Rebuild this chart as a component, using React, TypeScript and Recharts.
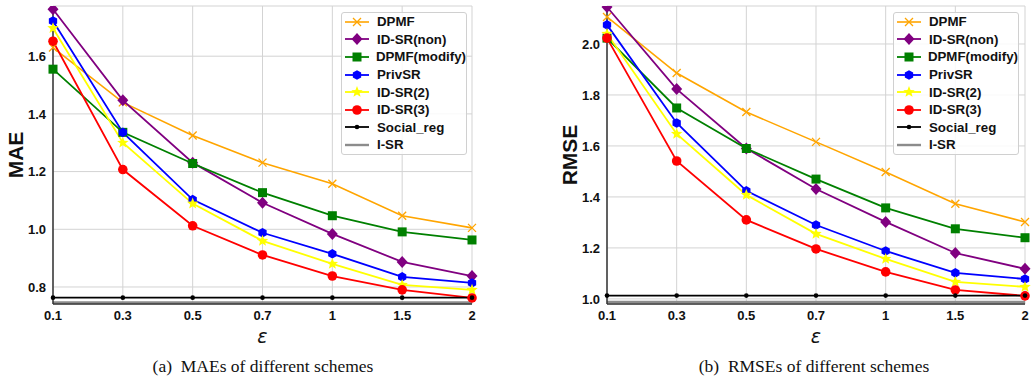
import React from 'react';
import { LineChart, Line, XAxis, YAxis, CartesianGrid, Legend } from 'recharts';

const EPS = ['0.1', '0.3', '0.5', '0.7', '1', '1.5', '2'];

// MAE panel
const MAE_DPMF = [1.63, 1.44, 1.325, 1.231, 1.158, 1.047, 1.005];
const MAE_IDSR_NON = [1.763, 1.447, 1.231, 1.092, 0.984, 0.887, 0.838];
const MAE_DPMF_MOD = [1.555, 1.336, 1.228, 1.127, 1.047, 0.991, 0.963];
const MAE_PRIVSR = [1.722, 1.336, 1.103, 0.988, 0.915, 0.835, 0.814];
const MAE_IDSR2 = [1.697, 1.3, 1.089, 0.96, 0.88, 0.807, 0.79];
const MAE_IDSR3 = [1.652, 1.207, 1.012, 0.911, 0.838, 0.79, 0.762];
const MAE_SOCIAL = [0.763, 0.763, 0.763, 0.763, 0.763, 0.763, 0.763];
const MAE_ISR = [0.746, 0.746, 0.746, 0.746, 0.746, 0.746, 0.746];
const MAE_TICKS = [0.8, 1.0, 1.2, 1.4, 1.6];

// RMSE panel
const RMSE_DPMF = [2.106, 1.886, 1.733, 1.616, 1.498, 1.373, 1.302];
const RMSE_IDSR_NON = [2.145, 1.823, 1.59, 1.431, 1.302, 1.18, 1.118];
const RMSE_DPMF_MOD = [2.023, 1.749, 1.59, 1.47, 1.357, 1.275, 1.24];
const RMSE_PRIVSR = [2.075, 1.69, 1.424, 1.29, 1.188, 1.102, 1.078];
const RMSE_IDSR2 = [2.04, 1.647, 1.408, 1.255, 1.157, 1.067, 1.047];
const RMSE_IDSR3 = [2.023, 1.541, 1.31, 1.196, 1.106, 1.035, 1.012];
const RMSE_SOCIAL = [1.013, 1.013, 1.013, 1.013, 1.013, 1.013, 1.013];
const RMSE_ISR = [0.988, 0.988, 0.988, 0.988, 0.988, 0.988, 0.988];
const RMSE_TICKS = [1.0, 1.2, 1.4, 1.6, 1.8, 2.0];

const SERIES = [
  { key: 'dpmf', name: 'DPMF', color: '#FFA500', marker: 'x', width: 1.6 },
  { key: 'idsrNon', name: 'ID-SR(non)', color: '#800080', marker: 'diamond', width: 1.8 },
  { key: 'dpmfMod', name: 'DPMF(modify)', color: '#008000', marker: 'square', width: 1.8 },
  { key: 'privsr', name: 'PrivSR', color: '#0000FF', marker: 'hex', width: 1.8 },
  { key: 'idsr2', name: 'ID-SR(2)', color: '#FFFF00', marker: 'star', width: 1.8 },
  { key: 'idsr3', name: 'ID-SR(3)', color: '#FF0000', marker: 'circle', width: 1.8 },
  { key: 'social', name: 'Social_reg', color: '#000000', marker: 'point', width: 1.8 },
  { key: 'isr', name: 'I-SR', color: '#8c8c8c', marker: 'none', width: 2.4 },
];

const buildRows = (cols: number[][]) =>
  EPS.map((eps, i) => {
    const row: any = { eps };
    SERIES.forEach((s, j) => { row[s.key] = cols[j][i]; });
    return row;
  });

const maeRows = buildRows([MAE_DPMF, MAE_IDSR_NON, MAE_DPMF_MOD, MAE_PRIVSR, MAE_IDSR2, MAE_IDSR3, MAE_SOCIAL, MAE_ISR]);
const rmseRows = buildRows([RMSE_DPMF, RMSE_IDSR_NON, RMSE_DPMF_MOD, RMSE_PRIVSR, RMSE_IDSR2, RMSE_IDSR3, RMSE_SOCIAL, RMSE_ISR]);

const FONT = '"Liberation Sans", Arial, sans-serif';

function Marker({ kind, cx, cy, color }: { kind: string; cx: number; cy: number; color: string }) {
  if (cx == null || cy == null || kind === 'none') return null;
  switch (kind) {
    case 'x':
      return (
        <path d={`M${cx - 4},${cy - 4}L${cx + 4},${cy + 4}M${cx - 4},${cy + 4}L${cx + 4},${cy - 4}`}
          stroke={color} strokeWidth={1.3} fill="none" />
      );
    case 'diamond':
      return <polygon points={`${cx},${cy - 6} ${cx + 5.5},${cy} ${cx},${cy + 6} ${cx - 5.5},${cy}`} fill={color} />;
    case 'square':
      return <rect x={cx - 4.5} y={cy - 4.5} width={9} height={9} fill={color} />;
    case 'hex': {
      const pts = [0, 1, 2, 3, 4, 5]
        .map((k) => {
          const a = (Math.PI / 3) * k + Math.PI / 6;
          return `${cx + 4.8 * Math.cos(a)},${cy + 4.8 * Math.sin(a)}`;
        })
        .join(' ');
      return <polygon points={pts} fill={color} />;
    }
    case 'star': {
      const pts = Array.from({ length: 10 }, (_, k) => {
        const r = k % 2 === 0 ? 6 : 2.6;
        const a = -Math.PI / 2 + (Math.PI / 5) * k;
        return `${cx + r * Math.cos(a)},${cy + r * Math.sin(a)}`;
      }).join(' ');
      return <polygon points={pts} fill={color} />;
    }
    case 'circle':
      return <circle cx={cx} cy={cy} r={4.8} fill={color} />;
    case 'point':
      return <circle cx={cx} cy={cy} r={2.3} fill={color} />;
    default:
      return null;
  }
}

function LegendBox() {
  return (
    <div
      style={{
        width: 126,
        height: 143,
        boxSizing: 'border-box',
        background: 'rgba(255,255,255,0.85)',
        border: '1px solid #d0d0d0',
        borderRadius: 3,
      }}
    >
      {SERIES.map((s) => (
        <div key={s.key} style={{ display: 'flex', alignItems: 'center', height: 17.6 }}>
          <svg width={26} height={14} style={{ marginLeft: 2, marginRight: 7 }}>
            <line x1={1} y1={7} x2={25} y2={7} stroke={s.color} strokeWidth={s.width} />
            <Marker kind={s.marker} cx={13} cy={7} color={s.color} />
          </svg>
          <span style={{ fontFamily: FONT, fontWeight: 'bold', fontSize: 13.3, color: '#111', whiteSpace: 'nowrap' }}>
            {s.name}
          </span>
        </div>
      ))}
    </div>
  );
}

function Panel({ rows, ticks, domain, yLabel, width, right, legendLeft }: any) {
  return (
    <LineChart width={width} height={352} data={rows} margin={{ top: 6, right, left: 0, bottom: 7 }}>
      <CartesianGrid stroke="#d3d3d3" strokeWidth={1} />
      <XAxis
        dataKey="eps"
        type="category"
        padding={{ left: 0, right: 0 }}
        height={41}
        tickLine={false}
        tickSize={4}
        tickMargin={3}
        axisLine={{ stroke: '#333', strokeWidth: 1.5 }}
        tick={{ fill: '#111', fontFamily: FONT, fontWeight: 'bold', fontSize: 13 }}
        label={(p: any) => {
          const vb = p.viewBox;
          return (
            <text x={vb.x + vb.width / 2} y={vb.y + 39} textAnchor="middle"
              style={{ fontFamily: '"DejaVu Sans", sans-serif', fontStyle: 'italic', fontSize: 19 }} fill="#111">
              ε
            </text>
          );
        }}
      />
      <XAxis xAxisId="top" dataKey="eps" orientation="top" height={0} tick={false} tickLine={false}
        axisLine={{ stroke: '#333', strokeWidth: 1.5 }} />
      <YAxis
        type="number"
        domain={domain}
        ticks={ticks}
        allowDataOverflow
        width={53}
        tickLine={false}
        tickSize={4}
        tickMargin={3}
        tickFormatter={(v: number) => v.toFixed(1)}
        axisLine={{ stroke: '#333', strokeWidth: 1.5 }}
        tick={{ fill: '#111', fontFamily: FONT, fontWeight: 'bold', fontSize: 13 }}
        label={(p: any) => {
          const vb = p.viewBox;
          const x = vb.x + 15;
          const y = vb.y + vb.height / 2;
          return (
            <text x={x} y={y} transform={`rotate(-90, ${x}, ${y})`} textAnchor="middle" dominantBaseline="central"
              style={{ fontFamily: FONT, fontWeight: 'bold', fontSize: 21 }} fill="#111">
              {yLabel}
            </text>
          );
        }}
      />
      <YAxis yAxisId="right" orientation="right" width={0} tick={false} tickLine={false} domain={[0, 1]}
        axisLine={{ stroke: '#333', strokeWidth: 1.5 }} />
      <Legend
        layout="vertical"
        align="center"
        verticalAlign="middle"
        wrapperStyle={{ left: legendLeft, top: 12, width: 126 }}
        content={() => <LegendBox />}
      />
      {SERIES.map((s) => (
        <Line
          key={s.key}
          dataKey={s.key}
          name={s.name}
          stroke={s.color}
          strokeWidth={s.width}
          isAnimationActive={false}
          activeDot={false}
          dot={
            s.marker === 'none'
              ? false
              : (p: any) => <Marker key={`${s.key}-${p.index}`} kind={s.marker} cx={p.cx} cy={p.cy} color={s.color} />
          }
        />
      ))}
    </LineChart>
  );
}

const captionStyle: React.CSSProperties = {
  position: 'absolute',
  top: 356,
  fontFamily: '"Liberation Serif", "DejaVu Serif", serif',
  fontSize: 17.5,
  color: '#111',
  transform: 'translateX(-50%)',
  whiteSpace: 'nowrap',
};

export default function App() {
  return (
    <div style={{ position: 'absolute', left: 0, top: 0, width: 1032, height: 383, background: '#fff' }}>
      <div style={{ position: 'absolute', left: 0, top: 0 }}>
        <Panel rows={maeRows} ticks={MAE_TICKS} domain={[0.741, 1.774]} yLabel="MAE" width={480} right={8} legendLeft={341} />
      </div>
      <div style={{ position: 'absolute', left: 554, top: 0 }}>
        <Panel rows={rmseRows} ticks={RMSE_TICKS} domain={[0.98, 2.149]} yLabel="RMSE" width={478} right={7} legendLeft={339} />
      </div>
      <div style={{ ...captionStyle, left: 263 }}>(a)&nbsp; MAEs of different schemes</div>
      <div style={{ ...captionStyle, left: 814 }}>(b)&nbsp; RMSEs of different schemes</div>
    </div>
  );
}
